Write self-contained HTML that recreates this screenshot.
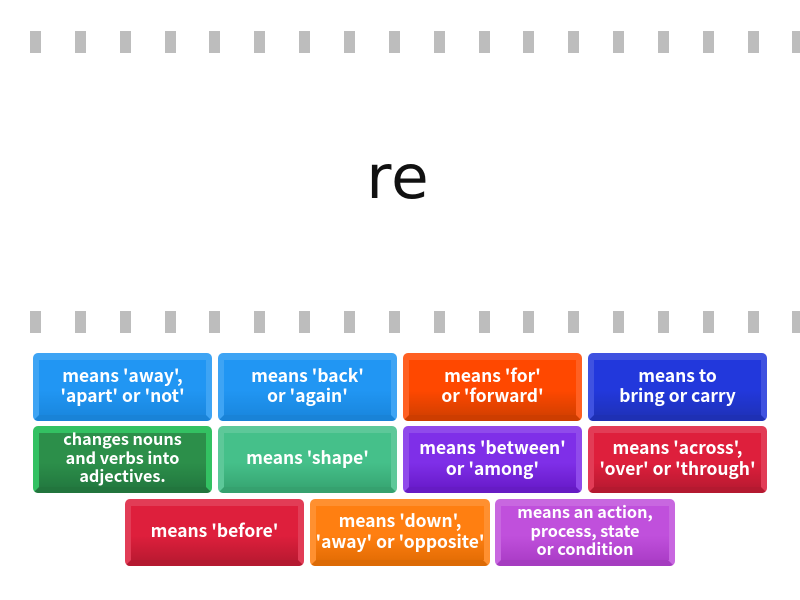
<!DOCTYPE html>
<html><head><meta charset="utf-8"><style>
html,body{margin:0;padding:0;background:#fff;width:800px;height:600px;overflow:hidden}
.s{position:absolute;width:11px;height:22px;background:#bdbdbd}
.t{position:absolute;width:179px;border-radius:5px;overflow:hidden;background:var(--o,var(--c))}
.t:before{content:"";position:absolute;inset:0;background:#ffffff22}
.t i{position:absolute;left:6px;right:6px;top:7px;bottom:6px;background:linear-gradient(var(--c) 0,var(--c) 55%,var(--d) 100%)}
.t u{position:absolute;left:0;right:0;bottom:0;height:6px;background:var(--d);clip-path:polygon(6px 0,173px 0,179px 100%,0 100%);filter:brightness(.96)}
.t b{position:absolute;left:0;right:0;top:0;bottom:2px;display:flex;align-items:center;justify-content:center;text-align:center;color:#fff;font:600 17.4px/20.5px "Noto Sans CJK SC","DejaVu Sans",sans-serif;white-space:nowrap}
.t b.m{font-size:16.2px;line-height:18.5px;bottom:5px}
.r{position:absolute;left:-2px;width:800px;top:133px;text-align:center;font:61px/90px "DejaVu Sans",sans-serif;letter-spacing:1px;color:#111}
</style></head><body>
<script>
for(const y of [31,311])for(let i=0;i<18;i++)document.write('<div class="s" style="left:'+Math.round(30+i*44.85)+'px;top:'+y+'px"></div>');
</script>
<div class="r">re</div>
<div class="t" style="left:33px;top:353px;height:68px;--c:#2196f3;--d:#1a88e0"><i></i><u></u><b>means 'away',<br>'apart' or 'not'</b></div>
<div class="t" style="left:218px;top:353px;height:68px;--c:#2196f3;--d:#1a88e0"><i></i><u></u><b>means 'back'<br>or 'again'</b></div>
<div class="t" style="left:403px;top:353px;height:68px;--c:#ff4800;--d:#d64000"><i></i><u></u><b>means 'for'<br>or 'forward'</b></div>
<div class="t" style="left:588px;top:353px;height:68px;--c:#2238dc;--d:#1f32bc"><i></i><u></u><b>means to<br>bring or carry</b></div>
<div class="t" style="left:33px;top:426px;height:67px;--c:#2c8f4a;--d:#237a40;--o:#14b84a"><i></i><u></u><b class="m">changes nouns<br>and verbs into<br>adjectives.</b></div>
<div class="t" style="left:218px;top:426px;height:67px;--c:#45c08a;--d:#38a874"><i></i><u></u><b>means 'shape'</b></div>
<div class="t" style="left:403px;top:426px;height:67px;--c:#7f2fe8;--d:#6a1ccc"><i></i><u></u><b>means 'between'<br>or 'among'</b></div>
<div class="t" style="left:588px;top:426px;height:67px;--c:#de1f3c;--d:#bc1a32"><i></i><u></u><b>means 'across',<br>'over' or 'through'</b></div>
<div class="t" style="left:125px;top:499px;height:67px;--c:#de1f3c;--d:#bc1a32"><i></i><u></u><b>means 'before'</b></div>
<div class="t" style="left:310px;top:499px;width:180px;height:67px;--c:#ff7f11;--d:#e56e05"><i></i><u></u><b>means 'down',<br>'away' or 'opposite'</b></div>
<div class="t" style="left:495px;top:499px;width:180px;height:67px;--c:#c050dc;--d:#ac3ec8"><i></i><u></u><b class="m">means an action,<br>process, state<br>or condition</b></div>
</body></html>
